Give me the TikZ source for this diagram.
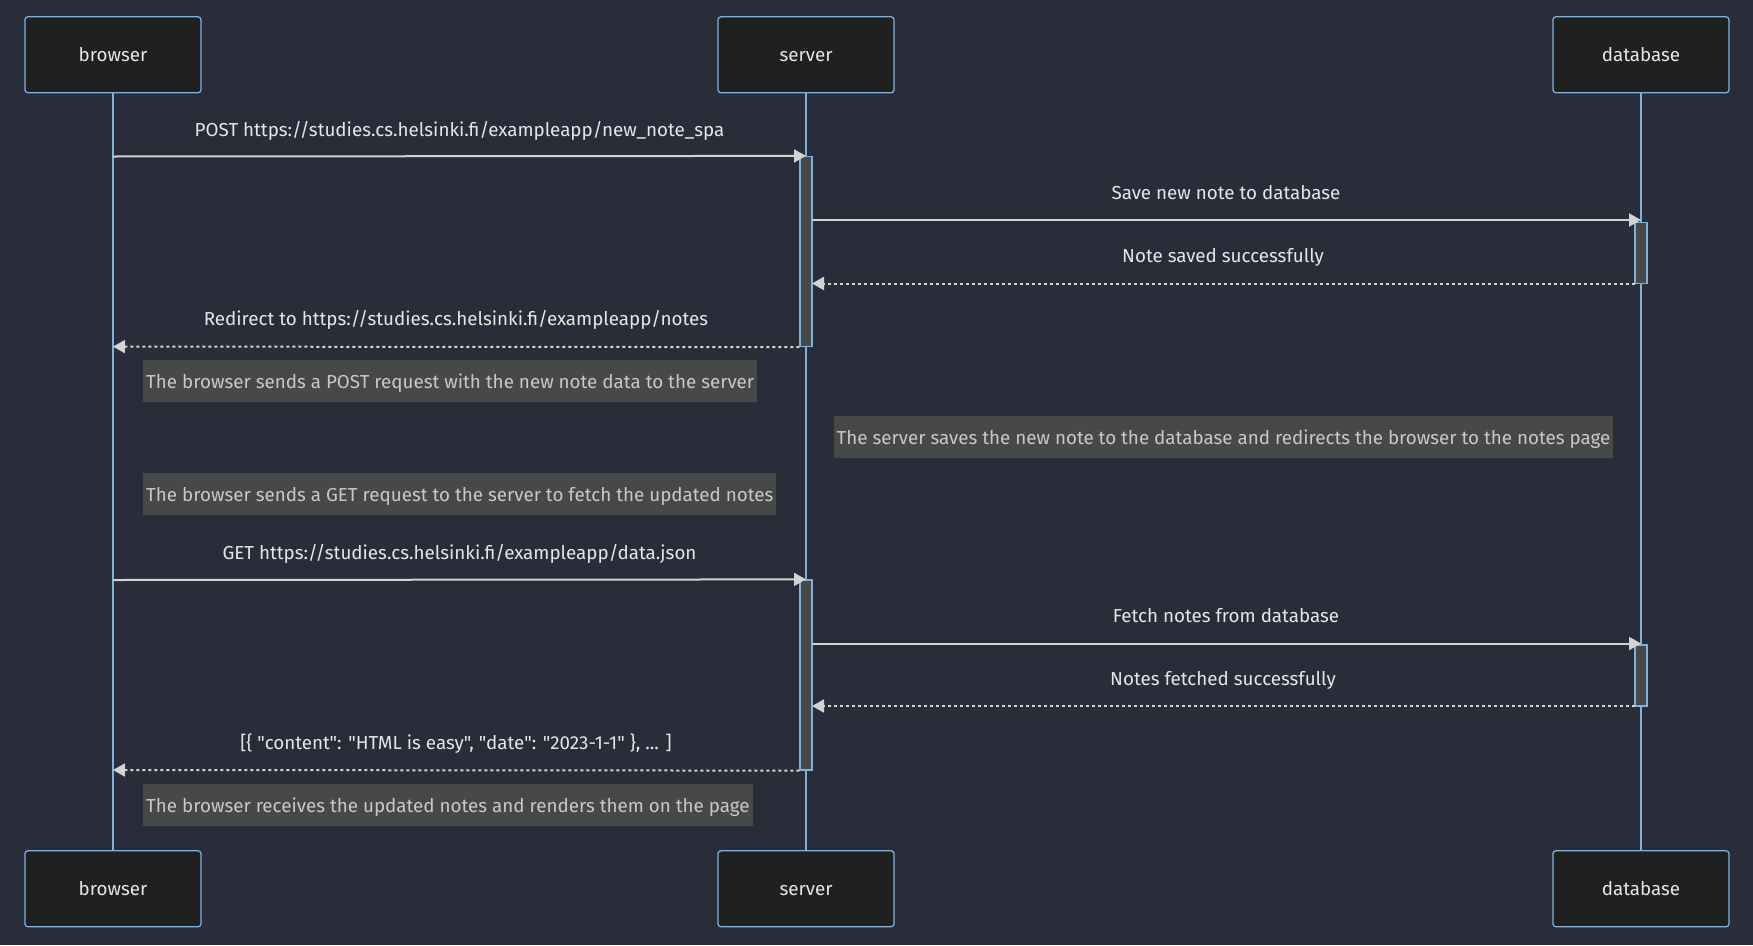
\documentclass[tikz,border=0pt]{standalone}
\usepackage{fontspec}
\newfontfamily\diagfam{Fira Sans}
\usetikzlibrary{arrows.meta}

\definecolor{bgc}{HTML}{292D39}
\definecolor{actorfill}{HTML}{1F2020}
\definecolor{edgeblue}{HTML}{81B1DB}
\definecolor{sigline}{HTML}{D3D3D3}
\definecolor{notefill}{HTML}{474949}
\definecolor{notetext}{HTML}{C8C8C8}
\definecolor{labeltext}{HTML}{E6E6E6}

\newcommand{\diagfont}{\diagfam\fontsize{18.8}{22}\selectfont}

\tikzset{
  actor/.style={draw=edgeblue, line width=1.3pt, fill=actorfill, rounded corners=3pt,
    minimum width=176pt, minimum height=76pt, inner sep=0pt,
    text=labeltext, font=\diagfont, text height=18pt, text depth=4pt},
  lifeline/.style={draw=edgeblue, line width=1.8pt},
  activation/.style={draw=edgeblue, line width=1.2pt, fill=notefill,
    minimum width=12pt, inner sep=0pt},
  msg/.style={draw=sigline, line width=2pt, -{Triangle[length=12pt,width=13pt]}},
  reply/.style={msg, dash pattern=on 3pt off 3pt},
  msglabel/.style={text=labeltext, font=\diagfont, inner sep=0pt,
    text height=13pt, text depth=4pt},
  note/.style={fill=notefill, text=notetext, font=\diagfont,
    minimum height=42pt, inner xsep=3pt, inner ysep=0pt,
    text height=19.5pt, text depth=4pt}
}

\begin{document}
\begin{tikzpicture}[x=1pt,y=-1pt]
  \fill[bgc] (0,0) rectangle (1753,945);
  \useasboundingbox (0,0) rectangle (1753,945);

  % participants, top and bottom
  \node[actor] (bT) at (113,54.8) {browser};
  \node[actor] (sT) at (806,54.8) {server};
  \node[actor] (dT) at (1641,54.8) {database};
  \node[actor] (bB) at (113,888.8) {browser};
  \node[actor] (sB) at (806,888.8) {server};
  \node[actor] (dB) at (1641,888.8) {database};

  % lifelines
  \draw[lifeline] (bT.south) -- (bB.north);
  \draw[lifeline] (sT.south) -- (sB.north);
  \draw[lifeline] (dT.south) -- (dB.north);

  % activation bars
  \node[activation, minimum height=190pt] (sa1) at (806,251.5) {};
  \node[activation, minimum height=61pt] (da1) at (1641,253) {};
  \node[activation, minimum height=190pt] (sa2) at (806,675) {};
  \node[activation, minimum height=61pt] (da2) at (1641,675.5) {};

  % message end points
  \coordinate (m1s) at (113,156.5);
  \coordinate (m4e) at (113,346.6);
  \coordinate (m5s) at (113,580);
  \coordinate (m8e) at (113,770);
  \coordinate (m2s) at (812,220);
  \coordinate (m2e) at (1641,220);
  \coordinate (m3s) at (1635,283.5);
  \coordinate (m3e) at (812,283.5);
  \coordinate (m6s) at (812,643.5);
  \coordinate (m6e) at (1641,643.5);
  \coordinate (m7s) at (1635,706);
  \coordinate (m7e) at (812,706);

  % messages
  \draw[msg] (m1s) -- (sa1.north);
  \node[msglabel] (l1) at (459.5,131.5) {POST https://studies.cs.helsinki.fi/exampleapp/new\_note\_spa};

  \draw[msg] (m2s) -- (m2e);
  \node[msglabel] (l2) at (1226,194.5) {Save new note to database};

  \draw[reply] (m3s) -- (m3e);
  \node[msglabel] (l3) at (1223,258) {Note saved successfully};

  \draw[reply] (sa1.south west) -- (m4e);
  \node[msglabel] (l4) at (456,320.5) {Redirect to https://studies.cs.helsinki.fi/exampleapp/notes};

  \draw[msg] (m5s) -- (sa2.north);
  \node[msglabel] (l5) at (459.5,554.5) {GET https://studies.cs.helsinki.fi/exampleapp/data.json};

  \draw[msg] (m6s) -- (m6e);
  \node[msglabel] (l6) at (1226,617.5) {Fetch notes from database};

  \draw[reply] (m7s) -- (m7e);
  \node[msglabel] (l7) at (1223,680.5) {Notes fetched successfully};

  \draw[reply] (sa2.south west) -- (m8e);
  \node[msglabel] (l8) at (456,744.5) {[\{ "content": "HTML is easy", "date": "2023-1-1" \}, ... ]};

  % notes
  \node[note, anchor=west] (n1) at (143,381) {The browser sends a POST request with the new note data to the server};
  \node[note] (n2) at (1223.5,437) {The server saves the new note to the database and redirects the browser to the notes page};
  \node[note, anchor=west] (n3) at (143,494) {The browser sends a GET request to the server to fetch the updated notes};
  \node[note, anchor=west] (n4) at (143,804.5) {The browser receives the updated notes and renders them on the page};
\end{tikzpicture}
\end{document}
